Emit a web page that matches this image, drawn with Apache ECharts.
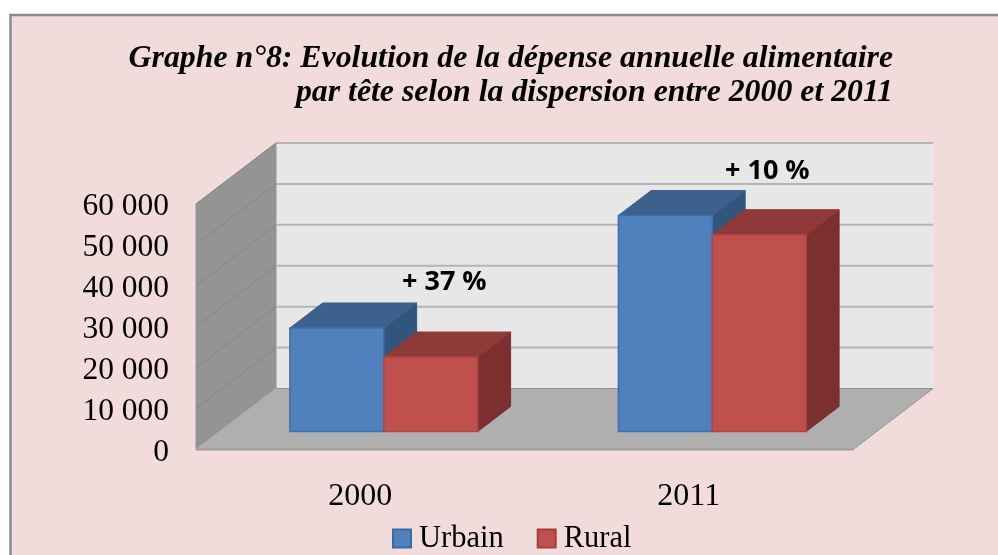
<!DOCTYPE html>
<html>
<head>
<meta charset="utf-8">
<style>html,body{margin:0;padding:0;background:#fff}#c{width:998px;height:555px}</style>
<script src="https://cdn.jsdelivr.net/npm/echarts@6/dist/echarts.min.js"></script>
</head>
<body>
<div id="c"></div>
<script>
const categories = ['2000', '2011'];
const urbain = [25300, 52800];
const rural = [18200, 48100];
const yTicks = [0, 10000, 20000, 30000, 40000, 50000, 60000];
const annotations = ['+ 37 %', '+ 10 %'];

const DX = 80, DY = -61;           // full depth of the 3D box
const BAR_NEAR = 0.295, BAR_FAR = 0.705;
const BAR_WIDTH = 0.286;           // fraction of a category band

function poly(points, fill, stroke) {
  return { type: 'polygon', shape: { points }, style: { fill, stroke: stroke || fill, lineWidth: 1 } };
}
function bars(seriesIndex, front, top, side) {
  return function (params, api) {
    const band = api.size([1, 0])[0];
    const w = band * BAR_WIDTH;
    const base = api.coord([api.value(0), 0]);
    const tip = api.coord([api.value(0), api.value(1)]);
    const cx = base[0] + DX * BAR_NEAR;
    const x0 = seriesIndex === 0 ? cx - w : cx, x1 = x0 + w;
    const y0 = base[1] + DY * BAR_NEAR, y1 = tip[1] + DY * BAR_NEAR;
    const dd = BAR_FAR - BAR_NEAR, ox = DX * dd, oy = DY * dd;
    return { type: 'group', children: [
      poly([[x1, y0], [x1 + ox, y0 + oy], [x1 + ox, y1 + oy], [x1, y1]], side),
      poly([[x0, y1], [x1, y1], [x1 + ox, y1 + oy], [x0 + ox, y1 + oy]], top),
      { type: 'rect', shape: { x: x0, y: y1, width: w, height: y0 - y1 },
        style: { fill: api.visual('color'), stroke: front, lineWidth: 1.5 } }
    ] };
  };
}
function walls(params, api) {
  const r = params.coordSys;
  const l = r.x, t = r.y, b = r.y + r.height, rr = r.x + r.width;
  return { type: 'group', children: [
    poly([[l + DX, t + DY], [rr + DX, t + DY], [rr + DX, b + DY], [l + DX, b + DY]], '#e7e7e7'),
    poly([[l, t], [l + DX, t + DY], [l + DX, b + DY], [l, b]], '#949494'),
    poly([[l, b], [l + DX, b + DY], [rr + DX, b + DY], [rr, b]], '#afafaf')
  ] };
}
function gridLine(params, api) {
  const r = params.coordSys;
  const p = api.coord([0, api.value(0)]);
  const y = p[1], l = r.x, rr = r.x + r.width;
  const v = api.value(0);
  const children = [];
  if (v > 0) {
    children.push({ type: 'line', shape: { x1: l + DX, y1: y + DY, x2: rr + DX, y2: y + DY },
      style: { stroke: '#b4b4b4', lineWidth: 2 } });
    children.push({ type: 'line', shape: { x1: l, y1: y, x2: l + DX, y2: y + DY },
      style: { stroke: '#858585', lineWidth: 1 } });
  } else {
    children.push({ type: 'line', shape: { x1: l, y1: y, x2: rr, y2: y },
      style: { stroke: '#9a9a9a', lineWidth: 2 } });
    children.push({ type: 'line', shape: { x1: rr, y1: y, x2: rr + DX, y2: y + DY },
      style: { stroke: '#9a9a9a', lineWidth: 1 } });
    children.push({ type: 'line', shape: { x1: l + DX, y1: y + DY, x2: rr + DX, y2: y + DY },
      style: { stroke: '#8f8f8f', lineWidth: 1 } });
  }
  return { type: 'group', children };
}

const serif = '"Liberation Serif", "Times New Roman", serif';
const chart = echarts.init(document.getElementById('c'), null, { renderer: 'canvas' });
chart.setOption({
  backgroundColor: '#ffffff',
  animation: false,
  title: {
    text: 'Graphe n°8: Evolution de la dépense annuelle alimentaire\npar tête selon la dispersion entre 2000 et 2011',
    left: 888, top: 37, textAlign: 'right',
    textStyle: { fontFamily: serif, fontSize: 31.8, fontWeight: 'bold', fontStyle: 'italic',
      color: '#000', lineHeight: 34, align: 'right' }
  },
  legend: {
    left: 387, top: 518, itemWidth: 18, itemHeight: 18, itemGap: 33,
    data: [{ name: 'Urbain', icon: 'rect' }, { name: 'Rural', icon: 'rect' }],
    textStyle: { fontFamily: serif, fontSize: 30.5, color: '#000', padding: [0, 0, 0, 3] }
  },
  grid: { left: 196, top: 204, width: 657, height: 245.5, containLabel: false },
  xAxis: {
    type: 'category', data: categories,
    axisLine: { show: false }, axisTick: { show: false },
    axisLabel: { fontFamily: serif, fontSize: 32, color: '#000', margin: 31 }
  },
  yAxis: {
    type: 'value', min: 0, max: 60000, interval: 10000,
    axisLine: { show: false }, axisTick: { show: false }, splitLine: { show: false },
    axisLabel: { color: '#000', margin: 27,
      formatter: v => '{t|' + String(v).replace(/\B(?=(\d{3})+$)/g, ' ') + '}',
      rich: { t: { fontFamily: serif, fontSize: 31.5, color: '#000', padding: [6, 0, 0, 0] } } }
  },
  graphic: [
    { type: 'rect', z: -10, shape: { x: 10.5, y: 15, width: 1000, height: 560 },
      style: { fill: '#f2dcdb', stroke: '#8c8c8c', lineWidth: 2.5 } },
    { type: 'text', z: 100, left: 402, top: 269, style: { text: annotations[0], fill: '#000',
      font: 'bold 27px "Open Sans", sans-serif' } },
    { type: 'text', z: 100, left: 725, top: 158, style: { text: annotations[1], fill: '#000',
      font: 'bold 27px "Open Sans", sans-serif' } }
  ],
  series: [
    { type: 'custom', name: 'walls', silent: true, z: 1, renderItem: walls, data: [[0]], encode: { x: 0 } },
    { type: 'custom', name: 'grid', silent: true, z: 2, renderItem: gridLine,
      data: yTicks.map(v => [v]), encode: { y: 0 } },
    { type: 'custom', name: 'Urbain', z: 3, itemStyle: { color: '#4f81bd', borderColor: '#3a6a9f', borderWidth: 1.5 },
      renderItem: bars(0, '#3f6fa8', '#3c618c', '#32557d'),
      data: categories.map((c, i) => [i, urbain[i]]), encode: { x: 0, y: 1 } },
    { type: 'custom', name: 'Rural', z: 4, itemStyle: { color: '#c0504d', borderColor: '#a33f3d', borderWidth: 1.5 },
      renderItem: bars(1, '#ad4543', '#8f3a38', '#7b302f'),
      data: categories.map((c, i) => [i, rural[i]]), encode: { x: 0, y: 1 } }
  ]
});
</script>
</body>
</html>
